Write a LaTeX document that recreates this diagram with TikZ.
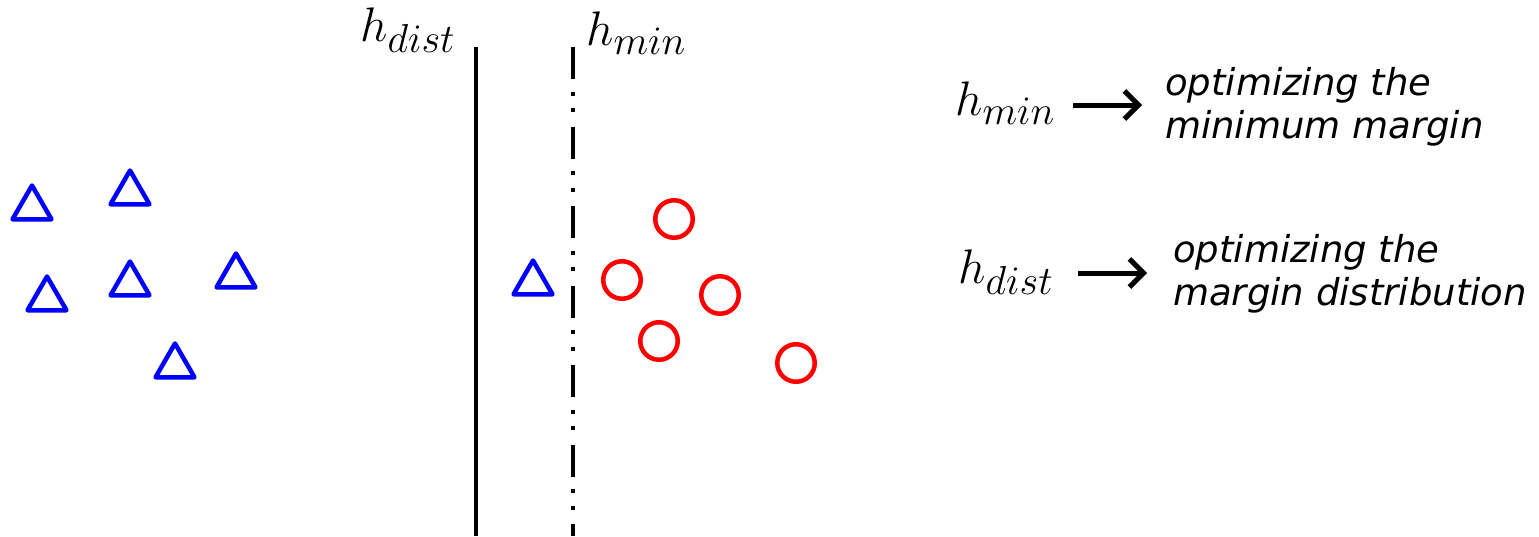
\documentclass[tikz,border=0pt]{standalone}
\usepackage{fontspec}
\newfontfamily\dejavu{DejaVu Sans}
\usetikzlibrary{shapes.geometric,arrows.meta}
\newcommand{\bigmath}[1]{\scalebox{1.95}{\fontsize{24.88}{30}\selectfont$#1$}}
\begin{document}
\begin{tikzpicture}[x=1pt,y=-1pt,
 tri/.style={draw=blue, line width=4.5pt, regular polygon, regular polygon sides=3, minimum size=45pt, inner sep=0pt, line join=round},
 circ/.style={draw=red, line width=4.5pt, circle, minimum size=37.5pt, inner sep=0pt},
 mlabel/.style={inner sep=0pt, anchor=base west},
 desc/.style={inner sep=0pt, anchor=base west, align=left, font=\dejavu\itshape\fontsize{37}{43}\selectfont},
 arr/.style={line width=5pt, -{Straight Barb[length=14pt,width=28pt]}},
 solidsep/.style={line width=3.5pt},
 dashsep/.style={line width=3.5pt, dash pattern=on 32pt off 12.5pt on 4pt off 12.5pt on 4pt off 14.5pt}
]
\useasboundingbox (0,0) rectangle (1539,536);
% separators
\coordinate (hdtop) at (476,47);
\coordinate (hdbot) at (476,536);
\coordinate (hmtop) at (573,47);
\coordinate (hmbot) at (573,536);
\draw[solidsep] (hdtop) -- (hdbot);
\draw[dashsep] (hmtop) -- (hmbot);
\node[mlabel] (ldist) at (360,41) {\bigmath{h_{dist}}};
\node[mlabel] (lmin) at (586,45) {\bigmath{h_{min}}};
% triangles
\node[tri] (t1) at (32,208) {};
\node[tri] (t2) at (130,193) {};
\node[tri] (t3) at (47,299) {};
\node[tri] (t4) at (130,284) {};
\node[tri] (t5) at (236,276) {};
\node[tri] (t6) at (175,366) {};
\node[tri] (t7) at (533,283) {};
% circles
\node[circ] (c1) at (674,219) {};
\node[circ] (c2) at (622,280) {};
\node[circ] (c3) at (720,295) {};
\node[circ] (c4) at (659,341) {};
\node[circ] (c5) at (796,363) {};
% legend
\node[mlabel] (rmin) at (955,115) {\bigmath{h_{min}}};
\node[mlabel] (rdist) at (958,283) {\bigmath{h_{dist}}};
\coordinate (a1s) at (1073,105);
\coordinate (a1e) at (1142,105);
\coordinate (a2s) at (1078,273);
\coordinate (a2e) at (1147,273);
\draw[arr] (a1s) -- (a1e);
\draw[arr] (a2s) -- (a2e);
\node[desc] (d1) at (1165,138) {optimizing the\\minimum margin};
\node[desc] (d2) at (1173,305) {optimizing the\\margin distribution};
\end{tikzpicture}
\end{document}
